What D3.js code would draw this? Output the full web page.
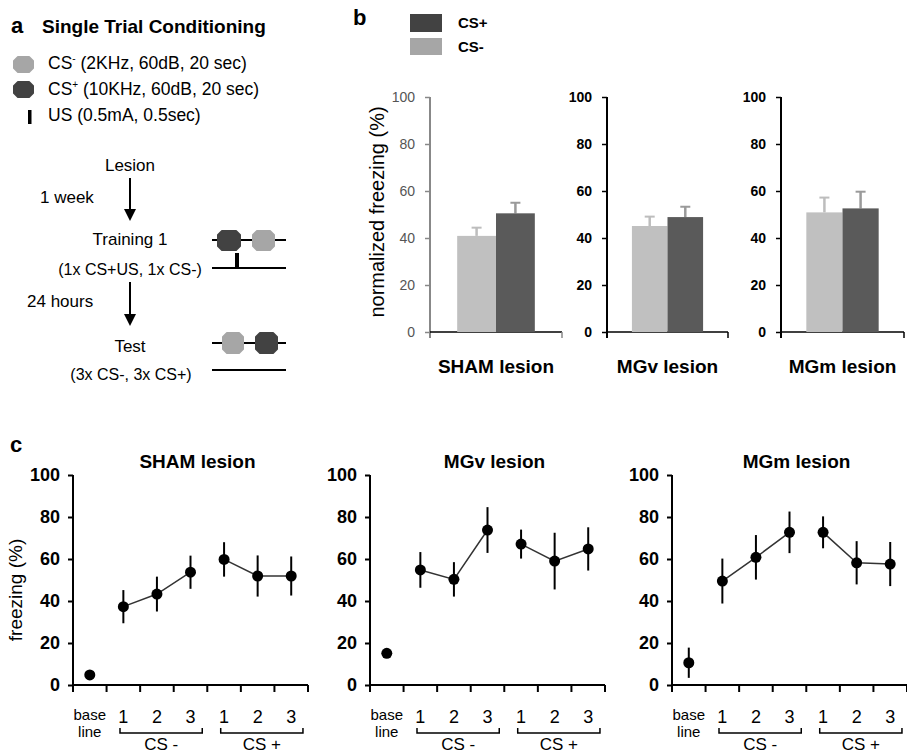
<!DOCTYPE html>
<html lang='en'>
<head>
	<meta charset='UTF-8'/>
	<title>Single Trial Conditioning</title>
	<script src='https://cdnjs.cloudflare.com/ajax/libs/d3/7.8.5/d3.min.js'></script>
	<style>
		body {margin: 0; background: #fff;}
		svg {display: block; font-family: 'Liberation Sans', Arial, sans-serif;}
	</style>
</head>
<body>
	<div class='figure'></div>
	<script>
		// panel b: normalized freezing per lesion group
		const lesions = ['SHAM lesion', 'MGv lesion', 'MGm lesion'];
		const stimuli = ['CS-', 'CS+'];
		const barMinus = [40.9, 45.1, 50.9];
		const barMinusErr = [3.5, 4.0, 6.3];
		const barPlus = [50.5, 48.9, 52.6];
		const barPlusErr = [4.5, 4.4, 7.1];

		// panel c: freezing over the test trials
		const trials = ['base', 'm1', 'm2', 'm3', 'p1', 'p2', 'p3'];
		const trialLabels = ['', '1', '2', '3', '1', '2', '3'];
		const shamMean = [4.8, 37.3, 43.3, 53.7, 59.8, 51.9, 51.9];
		const shamErr = [0, 7.9, 8.3, 7.9, 8.2, 9.8, 9.3];
		const mgvMean = [15.1, 54.8, 50.3, 73.8, 67.1, 59.0, 64.8];
		const mgvErr = [0, 8.5, 8.2, 10.9, 6.9, 13.5, 10.3];
		const mgmMean = [10.6, 49.5, 60.8, 72.7, 72.7, 58.2, 57.6];
		const mgmErr = [7.2, 10.7, 10.6, 9.9, 7.6, 10.3, 10.5];
		const yTicks = [0, 20, 40, 60, 80, 100];

		const LIGHT = '#a6a6a6', DARK = '#424242';
		const BAR_LIGHT = '#c0c0c0', BAR_DARK = '#5a5a5a';

		var svg = d3.select('.figure')
			.append('svg')
			.attr('width', 907)
			.attr('height', 756);

		function label(x, y, txt, size, bold, anchor) {
			return svg.append('text')
				.attr('x', x)
				.attr('y', y)
				.attr('text-anchor', anchor || 'start')
				.style('font-size', size + 'px')
				.style('font-weight', bold ? 'bold' : 'normal')
				.text(txt);
		}

		// chamfered box used for the tones
		function tone(x, y, w, h, colour) {
			const c = 4;
			svg.append('path')
				.attr('d', `M${x + c},${y} H${x + w - c} L${x + w},${y + c} V${y + h - c} L${x + w - c},${y + h} H${x + c} L${x},${y + h - c} V${y + c} Z`)
				.attr('fill', colour)
				.attr('stroke', colour)
				.attr('stroke-width', 2)
				.attr('stroke-linejoin', 'round');
		}

		function arrow(x, y0, y1) {
			svg.append('line')
				.attr('x1', x).attr('x2', x)
				.attr('y1', y0).attr('y2', y1 - 10)
				.attr('stroke', '#000').attr('stroke-width', 2);
			svg.append('path')
				.attr('d', `M${x - 6},${y1 - 12} L${x + 6},${y1 - 12} L${x},${y1} Z`)
				.attr('fill', '#000');
		}

		function hline(x0, x1, y, w) {
			svg.append('line')
				.attr('x1', x0).attr('x2', x1)
				.attr('y1', y).attr('y2', y)
				.attr('stroke', '#000').attr('stroke-width', w || 2);
		}

		// ---- panel a ----
		label(11, 33, 'a', 22, true);
		label(42, 33, 'Single Trial Conditioning', 19, true);

		tone(14, 57, 19, 15, LIGHT);
		let t1 = label(48, 69, 'CS', 17.5);
		t1.append('tspan').attr('dy', -7).style('font-size', '10px').text('-');
		t1.append('tspan').attr('dy', 7).text(' (2KHz, 60dB, 20 sec)');

		tone(14, 82, 19, 15, DARK);
		let t2 = label(48, 95, 'CS', 17.5);
		t2.append('tspan').attr('dy', -7).style('font-size', '10px').text('+');
		t2.append('tspan').attr('dy', 7).text(' (10KHz, 60dB, 20 sec)');

		svg.append('rect').attr('x', 28).attr('y', 110).attr('width', 3.5).attr('height', 14).attr('fill', '#000');
		label(48, 121, 'US (0.5mA, 0.5sec)', 17.5);

		label(130, 171, 'Lesion', 17, false, 'middle');
		arrow(130, 178, 221);
		label(40, 203, '1 week', 17);
		label(130, 245, 'Training 1', 17, false, 'middle');
		label(130, 275, '(1x CS+US, 1x CS-)', 16, false, 'middle');
		arrow(130, 282, 326);
		label(27, 307, '24 hours', 17);
		label(130, 352, 'Test', 17, false, 'middle');
		label(131, 380, '(3x CS-, 3x CS+)', 16, false, 'middle');

		// training schedule
		hline(212, 286, 240);
		tone(218, 231, 22, 19, DARK);
		tone(253, 231, 21, 19, LIGHT);
		hline(212, 286, 268);
		svg.append('rect').attr('x', 235).attr('y', 253).attr('width', 4).attr('height', 15).attr('fill', '#000');
		// test schedule
		hline(212, 286, 343);
		tone(223, 333, 20, 20, LIGHT);
		tone(256, 333, 21, 20, DARK);
		hline(212, 286, 370);

		// ---- panel b ----
		label(353, 25, 'b', 22, true);
		svg.append('rect').attr('x', 410).attr('y', 14).attr('width', 32).attr('height', 18).attr('fill', DARK);
		svg.append('rect').attr('x', 410).attr('y', 38).attr('width', 32).attr('height', 17).attr('fill', LIGHT);
		label(458, 28, 'CS+', 15, true);
		label(458, 52, 'CS-', 15, true);

		const bLayout = [[430, 562], [607, 728], [781, 904]];
		const yB = d3.scaleLinear().domain([0, 100]).range([332, 97]);

		lesions.forEach((name, i) => {
			const [x0, x1] = bLayout[i];
			const grey = i === 0;
			const xB = d3.scaleBand().domain(stimuli).range([x0, x1]).paddingInner(0).paddingOuter(0.7);

			let ax = svg.append('g')
				.attr('transform', 'translate(' + x0 + ',0)')
				.call(d3.axisLeft(yB).tickValues(yTicks).tickSize(5).tickSizeOuter(0).tickPadding(10));
			ax.select('.domain').remove();
			ax.selectAll('line').attr('stroke', grey ? '#888' : '#000').attr('stroke-width', 1.5);
			ax.selectAll('text')
				.style('font-family', "'Liberation Sans', Arial, sans-serif")
				.style('font-size', '14px')
				.style('font-weight', grey ? 'normal' : 'bold')
				.attr('fill', grey ? '#555' : '#000');

			svg.append('line')
				.attr('x1', x0).attr('x2', x0).attr('y1', yB(100)).attr('y2', yB(0) + 6)
				.attr('stroke', grey ? '#888' : '#000').attr('stroke-width', 2);
			hline(x0, x1, yB(0), 1.5);
			svg.append('line')
				.attr('x1', x1).attr('x2', x1).attr('y1', yB(0)).attr('y2', yB(0) + 6)
				.attr('stroke', grey ? '#888' : '#000').attr('stroke-width', 1.5);

			const vals = [barMinus[i], barPlus[i]];
			const errs = [barMinusErr[i], barPlusErr[i]];
			const errCol = ['#bdbdbd', '#9a9a9a'];
			stimuli.forEach((s, j) => {
				const cx = xB(s) + xB.bandwidth() / 2;
				svg.append('line')
					.attr('x1', cx).attr('x2', cx)
					.attr('y1', yB(vals[j])).attr('y2', yB(vals[j] + errs[j]))
					.attr('stroke', errCol[j]).attr('stroke-width', 2.5);
				svg.append('line')
					.attr('x1', cx - 5).attr('x2', cx + 5)
					.attr('y1', yB(vals[j] + errs[j])).attr('y2', yB(vals[j] + errs[j]))
					.attr('stroke', errCol[j]).attr('stroke-width', 2);
				svg.append('rect')
					.attr('x', xB(s))
					.attr('y', yB(vals[j]))
					.attr('width', xB.bandwidth())
					.attr('height', yB(0) - yB(vals[j]))
					.attr('fill', j === 0 ? BAR_LIGHT : BAR_DARK);
			});

			label((x0 + x1) / 2, 373, name, 19, true, 'middle');
		});

		svg.append('text')
			.attr('transform', 'translate(384,212) rotate(-90)')
			.attr('text-anchor', 'middle')
			.style('font-size', '20px')
			.text('normalized freezing (%)');

		// ---- panel c ----
		label(10, 452, 'c', 22, true);

		const cStart = [73, 370, 672];
		const cWidth = 235;
		const means = [shamMean, mgvMean, mgmMean];
		const errors = [shamErr, mgvErr, mgmErr];
		const yC = d3.scaleLinear().domain([0, 100]).range([685, 475]);

		lesions.forEach((name, i) => {
			const x0 = cStart[i];
			const xC = d3.scaleBand().domain(trials).range([x0, x0 + cWidth]);
			const step = xC.step();
			const cx = k => xC(trials[k]) + step / 2;

			let ax = svg.append('g')
				.attr('transform', 'translate(' + x0 + ',0)')
				.call(d3.axisLeft(yC).tickValues(yTicks).tickSize(5).tickSizeOuter(0).tickPadding(8));
			ax.select('.domain').remove();
			ax.selectAll('line').attr('stroke', '#000').attr('stroke-width', 2);
			ax.selectAll('text')
				.style('font-family', "'Liberation Sans', Arial, sans-serif")
				.style('font-size', '18px')
				.style('font-weight', 'bold')
				.attr('fill', '#000');

			svg.append('line')
				.attr('x1', x0).attr('x2', x0).attr('y1', yC(100)).attr('y2', yC(0))
				.attr('stroke', '#000').attr('stroke-width', 2);
			hline(x0, x0 + cWidth, yC(0), 2);
			d3.range(trials.length + 1).forEach(k => {
				svg.append('line')
					.attr('x1', x0 + k * step).attr('x2', x0 + k * step)
					.attr('y1', yC(0)).attr('y2', yC(0) + 7)
					.attr('stroke', '#000').attr('stroke-width', 2);
			});

			const m = means[i], e = errors[i];
			const line = d3.line().x(k => cx(k)).y(k => yC(m[k]));
			[[1, 2, 3], [4, 5, 6]].forEach(grp => {
				svg.append('path')
					.attr('d', line(grp))
					.attr('fill', 'none')
					.attr('stroke', '#333')
					.attr('stroke-width', 1.5);
			});
			m.forEach((v, k) => {
				if (e[k] > 0) {
					svg.append('line')
						.attr('x1', cx(k)).attr('x2', cx(k))
						.attr('y1', yC(v - e[k])).attr('y2', yC(v + e[k]))
						.attr('stroke', '#000').attr('stroke-width', 2);
				}
				svg.append('circle')
					.attr('cx', cx(k)).attr('cy', yC(v)).attr('r', 5.5)
					.attr('fill', '#000');
			});

			// x labels
			label(cx(0), 720, 'base', 15, false, 'middle');
			label(cx(0), 737, 'line', 15, false, 'middle');
			trialLabels.forEach((t, k) => {
				if (t) label(cx(k), 723, t, 18, false, 'middle');
			});
			[[1, 3, 'CS -'], [4, 6, 'CS +']].forEach(([a, b, txt]) => {
				const bx0 = xC(trials[a]) + step * 0.4;
				const bx1 = xC(trials[b]) + step * 0.85;
				svg.append('path')
					.attr('d', `M${bx0},728 V733 H${bx1} V728`)
					.attr('fill', 'none')
					.attr('stroke', '#000')
					.attr('stroke-width', 1.5);
				label((bx0 + bx1) / 2, 750, txt, 17, false, 'middle');
			});

			label(x0 + cWidth / 2 + 7, 468, name, 19, true, 'middle');
		});

		svg.append('text')
			.attr('transform', 'translate(22,590) rotate(-90)')
			.attr('text-anchor', 'middle')
			.style('font-size', '19px')
			.text('freezing (%)');
	</script>
</body>
</html>
